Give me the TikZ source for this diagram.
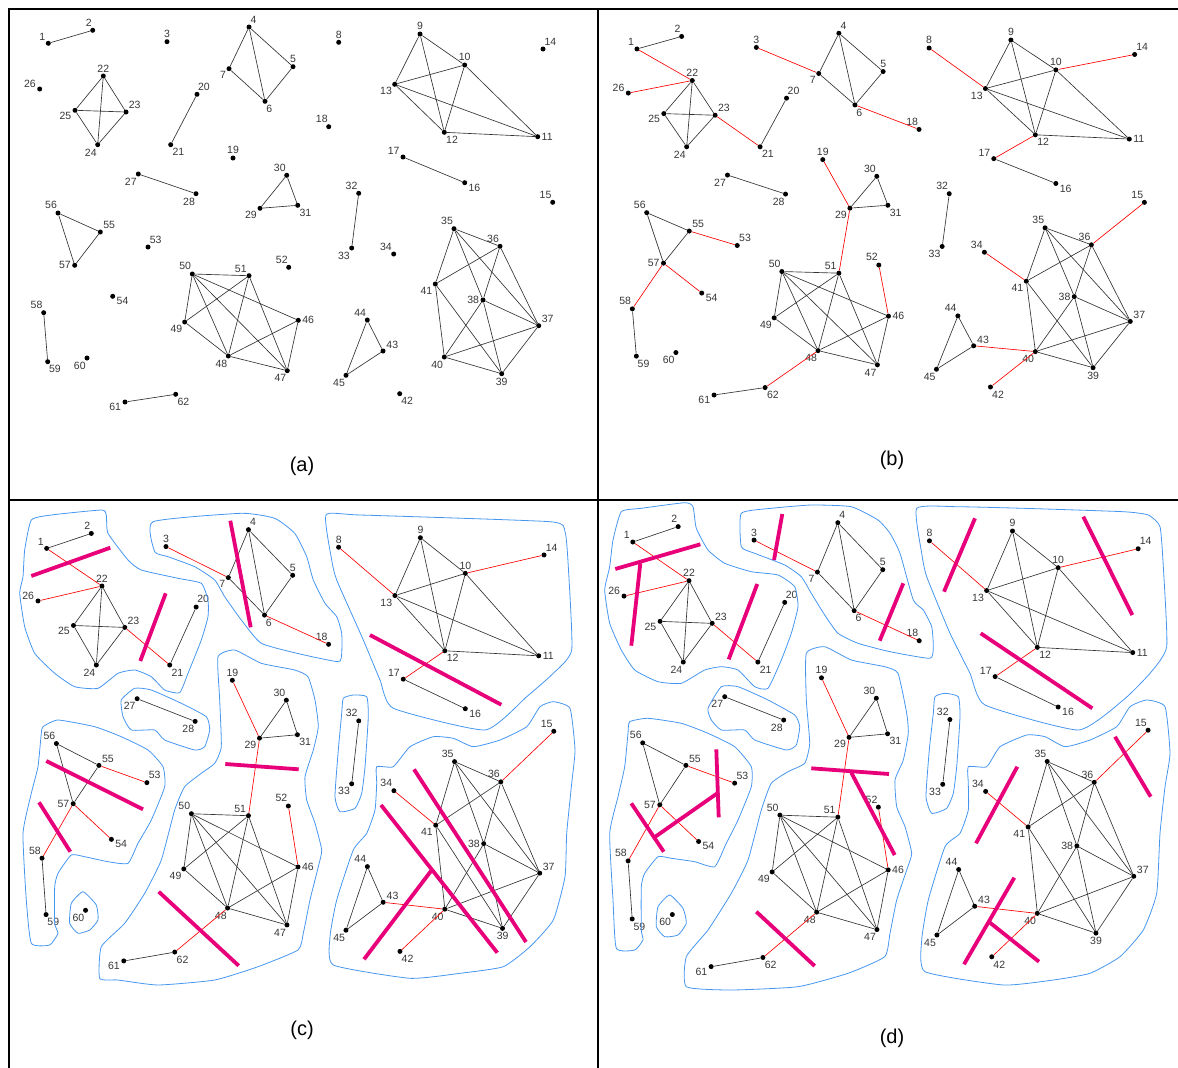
\documentclass[tikz,border=0pt]{standalone}
\usepackage{fontspec}
\setmainfont{Liberation Sans}
\usepackage{tikz}
\usetikzlibrary{arrows.meta, positioning}

\definecolor{outline}{RGB}{70,150,240}
\definecolor{cutpink}{RGB}{232,0,122}
\definecolor{labelgray}{RGB}{55,55,55}

% all 62 vertices: name/x/y/label angle (pixel layout of panel (a))
\newcommand{\graphnodes}[1]{%
  \foreach \n/\x/\y/\a in {1/48.3/43.3/135, 2/92.7/30.3/95, 3/167/41.7/90, 4/249/27/75,
      5/293/66.7/90, 6/265/101.3/-80, 7/229/68.7/-135, 8/338.7/42.3/90, 9/420/34/90,
      10/464.7/65/90, 11/537.7/136.7/0, 12/444.3/132.3/-70, 13/394.7/84.3/-130,
      14/543/49/75, 15/552.7/202.3/100, 16/464.7/182.7/-10, 17/403/157/150,
      18/328.7/126.7/95, 19/233/158/90, 20/197/94.3/85, 21/170.7/144.7/-70,
      22/103.3/76/90, 23/126/112/50, 24/97.7/144.7/-95, 25/75/110.3/-160,
      26/39.7/89/170, 27/138.3/174/-105, 28/196/193.7/-95, 29/260/208.3/-140,
      30/286.7/175.3/95, 31/297.7/205.3/-70, 32/358.7/193.3/100, 33/351.7/248/-110,
      34/393.7/254/110, 35/454/228.7/95, 36/500/246.3/95, 37/538.7/325.7/45,
      38/483/300/180, 39/501.7/373.7/-90, 40/444.3/357/-100, 41/435.3/284/-135,
      42/399.7/393.7/-75, 43/383/351/35, 44/367.3/320/100, 45/346/375.3/-95,
      46/298.3/320.3/0, 47/287.3/370.7/-95, 48/228.3/356/-95, 49/184.7/322/-120,
      50/192.3/274/100, 51/249/275.7/120, 52/288.7/267.3/95, 53/148/247/70,
      54/112.7/296.3/-5, 55/100.3/232/45, 56/58/213/95, 57/74.7/265.3/180,
      58/43.7/312.7/100, 59/47.7/361.7/-80, 60/87/358/-100, 61/125/402/185,
      62/175.7/394.3/-70}
    \node[dot, label={[lbl]\a:\n}] (#1\n) at (\x,\y) {};
}
\newcommand{\graphedges}[1]{%
  \foreach \u/\v in {1/2, 4/5, 4/6, 4/7, 5/6, 6/7, 22/23, 22/24, 22/25, 23/24, 23/25,
      24/25, 20/21, 27/28, 29/30, 30/31, 29/31, 55/56, 56/57, 55/57, 58/59, 61/62,
      50/51, 50/49, 50/48, 50/47, 50/46, 51/49, 51/48, 51/47, 49/48, 48/47, 48/46,
      47/46, 9/10, 9/13, 9/12, 10/13, 10/12, 10/11, 13/12, 13/11, 12/11, 17/16,
      32/33, 44/43, 44/45, 43/45, 35/36, 35/41, 35/38, 35/37, 36/41, 36/38, 36/37,
      41/40, 41/39, 38/37, 38/40, 38/39, 37/40, 37/39, 40/39}
    \draw[edge] (#1\u) -- (#1\v);
}
\newcommand{\linkedges}[1]{%
  \foreach \u/\v in {1/22, 26/22, 23/21, 3/7, 6/18, 8/13, 10/14, 12/17, 19/29, 29/51,
      52/46, 55/53, 57/54, 57/58, 48/62, 34/41, 36/15, 43/40, 40/42}
    \draw[redge] (#1\u) -- (#1\v);
}

\begin{document}
\begin{tikzpicture}[x=1pt, y=-1pt,
    dot/.style={circle, fill=black, inner sep=0pt, minimum size=5pt},
    lbl/.style={font=\fontsize{10.5}{12}\selectfont, text=labelgray, inner sep=0.6pt},
    label distance=0.5pt,
    edge/.style={black!80, line width=0.65pt},
    redge/.style={red, line width=0.65pt},
    region/.style={outline, line width=0.8pt},
    cut/.style={cutpink, line width=3.8pt},
    frame/.style={black, line width=2pt},
    caption/.style={font=\fontsize{20}{24}\selectfont}]
  \useasboundingbox (0,0) rectangle (1178,1068);

  % panel frames
  \draw[frame] (9,1068) -- (9,9) -- (1178,9);
  \draw[frame] (598,9) -- (598,1068);
  \draw[frame] (9,500) -- (1178,500);

  % (a)
  \begin{scope}
    \graphnodes{a}
    \graphedges{a}
  \end{scope}
  % (b)
  \begin{scope}[shift={(588.36,7.2)}, xscale=1.006, yscale=0.9647]
    \graphnodes{b}
    \graphedges{b}
    \linkedges{b}
  \end{scope}
  % (c)
  \begin{scope}[shift={(-1.91,498.6)}, xscale=1.0054, yscale=1.150]
    \graphnodes{c}
    \graphedges{c}
    \linkedges{c}
  \end{scope}
  % (d)
  \begin{scope}[shift={(583.46,490.75)}, xscale=1.0215, yscale=1.1837]
    \graphnodes{d}
    \graphedges{d}
    \linkedges{d}
  \end{scope}

  % regions (c)
  \draw[region] plot[smooth cycle, tension=0.3] coordinates {(31.3,520) (51.3,515) (101.3,510) (106.3,515) (108,533.3) (128,560) (141.3,570) (178,578.3) (201.3,583.3) (208,600) (208,616.7) (201.3,640) (188,673.3) (179.7,692.7) (164.7,690) (151.3,676.7) (134.7,670) (118,673.3) (98,688.3) (74.7,686.7) (54.7,673.3) (34.7,653.3) (24.7,626.7) (19.7,593.3) (23,576.7) (24.7,550)};
  \draw[region] plot[smooth cycle, tension=0.3] coordinates {(153,521.7) (241.3,513.3) (274.7,518.3) (294.7,533.3) (306.7,556.7) (313.3,580) (325,603.3) (336.7,616.7) (341.7,633.3) (341.7,653.3) (338.3,661.7) (300,654) (261.3,643.3) (241.3,620) (224.7,596.7) (214.7,580) (194.7,566.7) (168,556.7) (154.7,551.7)};
  \draw[region] plot[smooth cycle, tension=0.3] coordinates {(326,515) (360,515) (550,521.7) (565,531.7) (568.3,566.7) (571.7,650) (553.3,673.3) (526.7,696.7) (485,730) (393.3,708.3) (380,680) (363.3,640) (336.7,580) (331.7,560)};
  \draw[region] plot[smooth cycle, tension=0.3] coordinates {(121.3,700) (134.7,688.3) (151.3,690) (181.3,703.3) (206.3,716.7) (209.7,730) (204.7,746.7) (194.7,750) (164.7,740) (154.7,730) (131.3,730) (123,716.7)};
  \draw[region] plot[smooth cycle, tension=0.3] coordinates {(218,656.7) (234.7,650) (261.3,663.3) (294.7,670) (308,676.7) (315,700) (318.3,726.7) (313.3,750) (305,776.7) (306.7,800) (315,823.3) (321.7,850) (318.3,866.7) (310,900) (303.3,933.3) (298,950) (258,966.7) (214.7,980) (158,985) (118,980) (99.7,978.3) (101.3,946.7) (124.7,923.3) (144.7,893.3) (161.3,860) (174.7,810) (184.7,786.7) (201.3,773.3) (214.7,763.3) (221.3,746.7) (219.7,700)};
  \draw[region] plot[smooth cycle, tension=0.3] coordinates {(43,726.7) (58,720) (94.7,726.7) (121.3,736.7) (148,750) (163,766.7) (164.7,786.7) (151.3,820) (138,843.3) (128,863.3) (108,861.7) (84.7,856.7) (71.3,855) (58,873.3) (54.7,886.7) (54.7,923.3) (58,933.3) (49.7,945) (31.3,943.3) (26.3,900) (23,833.3) (31.3,793.3) (38,766.7) (41.3,733.3)};
  \draw[region] plot[smooth cycle, tension=0.3] coordinates {(71.3,903.3) (83,891.7) (96.3,905) (98,920) (89.7,930) (78,933.3) (69.7,923.3)};
  \draw[region] plot[smooth cycle, tension=0.3] coordinates {(343.3,698.3) (353.3,695) (366.7,696.7) (368.3,716.7) (365,766.7) (361.7,793.3) (355,808.3) (340,811.7) (335,796.7) (338.3,750) (341.7,713.3)};
  \draw[region] plot[smooth cycle, tension=0.3] coordinates {(376.7,766.7) (393.3,766.7) (410,746.7) (433.3,736.7) (453.3,738.3) (473.3,746.7) (500,740) (526.7,726.7) (540,706.7) (553.3,701.7) (570,708.3) (575,750) (571.7,783.3) (566.7,833.3) (565,876.7) (553.3,920) (530,946.7) (503.3,966.7) (460,973.3) (410,978.3) (333.3,965) (330,936.7) (336.7,900) (353.3,850) (366.7,833.3) (375,810) (376.7,783.3)};

  % regions (d)
  \draw[region] plot[smooth cycle, tension=0.3] coordinates {(621.3,511.7) (641.3,508.3) (684.7,502.7) (693,506.7) (696.3,528.3) (708,550) (724.7,563.3) (751.3,571.7) (778,575) (794.7,586.7) (798,606.7) (791.3,633.3) (781.3,660) (768,688.3) (754.7,686.7) (738,670) (721.3,666.7) (704.7,670) (681.3,683.3) (658,681.7) (634.7,670) (621.3,650) (609.7,623.3) (604.7,590) (609.7,566.7) (613,540)};
  \draw[region] plot[smooth cycle, tension=0.3] coordinates {(741.3,513.3) (771.3,508.3) (811.3,505) (851.3,506.7) (878,520) (890,533.3) (900,553.3) (913.3,600) (923.3,610) (931.7,626.7) (933.3,646.7) (930,658.3) (890,651.7) (858,643.3) (838,633.3) (824.7,615) (811.3,593.3) (801.3,576.7) (784.7,565) (754.7,553.3) (741.3,546.7)};
  \draw[region] plot[smooth cycle, tension=0.3] coordinates {(916.7,508.3) (956.7,506.7) (1023.3,508.3) (1123.3,511.7) (1148.3,515) (1160,526.7) (1163.3,566.7) (1166.7,646.7) (1150,673.3) (1123.3,700) (1078.3,730) (985,705) (970,673.3) (950,633.3) (926.7,576.7) (921.7,553.3)};
  \draw[region] plot[smooth cycle, tension=0.3] coordinates {(708,708.3) (721.3,686.7) (738,686.7) (768,700) (794.7,715) (799.7,726.7) (796.3,745) (786.3,750) (754.7,740) (744.7,730) (721.3,730) (711.3,720)};
  \draw[region] plot[smooth cycle, tension=0.3] coordinates {(806.3,653.3) (824.7,646.7) (851.3,660) (884.7,666.7) (898,673.3) (906.7,713.3) (908.3,733.3) (903.3,760) (895,780) (896.7,806.7) (905,826.7) (911.7,853.3) (906.7,870) (896.7,900) (890,933.3) (884.7,956.7) (848,973.3) (798,986.7) (731.3,990) (686.3,986.7) (686.3,956.7) (708,930) (731.3,893.3) (748,860) (761.3,810) (771.3,783.3) (788,771.7) (804.7,763.3) (809.7,743.3) (806.3,700)};
  \draw[region] plot[smooth cycle, tension=0.3] coordinates {(629.7,721.7) (648,718.3) (681.3,723.3) (708,733.3) (734.7,746.7) (751.3,766.7) (751.3,786.7) (738,820) (726.3,843.3) (714.7,866.7) (694.7,861.7) (671.3,858.3) (658,856.7) (644.7,873.3) (641.3,886.7) (641.3,930) (643,940) (634.7,950) (616.3,948.3) (613,900) (609.7,833.3) (618,796.7) (624.7,766.7) (628,733.3)};
  \draw[region] plot[smooth cycle, tension=0.3] coordinates {(658,906.7) (669.7,895) (683,908.3) (686.3,923.3) (678,935) (664.7,936.7) (656.3,926.7)};
  \draw[region] plot[smooth cycle, tension=0.3] coordinates {(935,696.7) (945,693.3) (958.3,696.7) (960,716.7) (956.7,766.7) (953.3,793.3) (946.7,808.3) (931.7,813.3) (926,796.7) (929.3,750) (933.3,713.3)};
  \draw[region] plot[smooth cycle, tension=0.3] coordinates {(968.3,766.7) (986.7,766.7) (1000,746.7) (1026.7,735) (1045,736.7) (1065,746.7) (1090,740) (1116.7,726.7) (1130,706.7) (1146.7,700) (1165,706.7) (1170,753.3) (1165,786.7) (1160,833.3) (1156.7,893.3) (1143.3,930) (1120,956.7) (1090,973.3) (1053.3,980) (1003.3,985) (925,971.7) (921.7,940) (928.3,900) (945,846.7) (960,833.3) (968.3,810) (968.3,783.3)};

  % cuts (c)
  \draw[cut] (31.3,576) -- (110.3,547.7);
  \draw[cut] (140.3,661) -- (165.7,593.3);
  \draw[cut] (230.3,520.7) -- (250.7,627.3);
  \draw[cut] (225.3,764) -- (298.7,769.3);
  \draw[cut] (46.3,761) -- (143,809.3);
  \draw[cut] (39,802.3) -- (70.3,851.7);
  \draw[cut] (158.7,891.7) -- (238.7,965.7);
  \draw[cut] (370,635) -- (501.3,704.7);
  \draw[cut] (414,769.3) -- (526,942);
  \draw[cut] (381,805) -- (497.3,952.7);
  \draw[cut] (364,959.3) -- (431,871);

  % cuts (d)
  \draw[cut] (615.3,569) -- (700.3,544.3);
  \draw[cut] (640.3,563.3) -- (631.3,645.7);
  \draw[cut] (728.7,659.3) -- (757.3,584);
  \draw[cut] (774,560) -- (782.3,514);
  \draw[cut] (879.7,640.7) -- (903.3,583.3);
  \draw[cut] (811.3,768.3) -- (889,774);
  \draw[cut] (851.3,772.7) -- (894.7,855);
  \draw[cut] (716.3,749.3) -- (718.7,817.3);
  \draw[cut] (717.3,793.3) -- (655.3,836.7);
  \draw[cut] (631.3,803.3) -- (663.7,851.7);
  \draw[cut] (756.3,911.7) -- (814.7,966);
  \draw[cut] (975,518.3) -- (944,591.7);
  \draw[cut] (1083.3,516.7) -- (1132.3,615);
  \draw[cut] (980.7,633.3) -- (1092.3,708.3);
  \draw[cut] (1115,736.7) -- (1150.7,796.7);
  \draw[cut] (1017.3,766.7) -- (976,843.3);
  \draw[cut] (1014.3,877.7) -- (964,964.3);
  \draw[cut] (990,922.7) -- (1039,961.7);

  % captions
  \node[caption] (capa) at (302,466) {(a)};
  \node[caption] (capb) at (892,460) {(b)};
  \node[caption] (capc) at (302,1030) {(c)};
  \node[caption] (capd) at (892,1038) {(d)};
\end{tikzpicture}
\end{document}
